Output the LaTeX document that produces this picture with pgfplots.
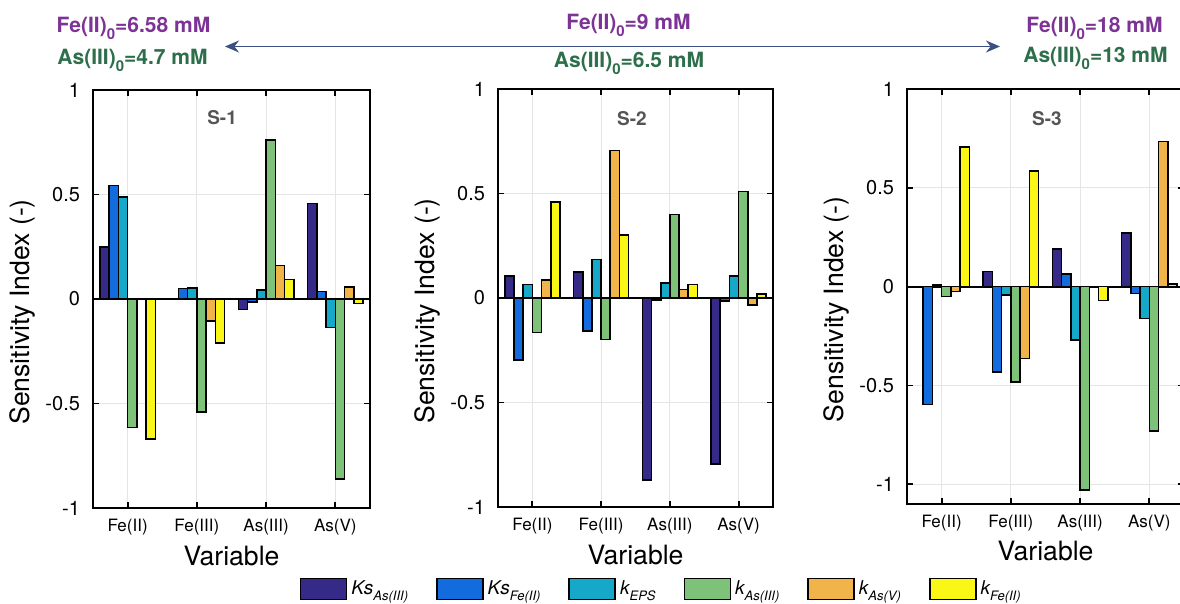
\documentclass[border=0pt]{standalone}
\usepackage{pgfplots}
\pgfplotsset{compat=1.18}
\usepackage{pgfplotstable}
\usepackage{fontspec}
\setmainfont{TeX Gyre Heros}
\usetikzlibrary{arrows.meta}

\definecolor{c1}{RGB}{53,42,135}
\definecolor{c2}{RGB}{18,108,222}
\definecolor{c3}{RGB}{22,168,200}
\definecolor{c4}{RGB}{126,194,122}
\definecolor{c5}{RGB}{240,180,75}
\definecolor{c6}{RGB}{250,246,22}
\definecolor{annP}{RGB}{125,50,150}
\definecolor{annG}{RGB}{45,110,75}
\definecolor{arr}{RGB}{60,80,130}
\definecolor{ttl}{RGB}{85,85,85}

\pgfplotstableread{
x a b c d e f
1 0.25 0.544 0.488 -0.614 0.0 -0.67
2 0.0 0.05 0.053 -0.54 -0.104 -0.21
3 -0.051 -0.014 0.043 0.76 0.16 0.094
4 0.456 0.035 -0.136 -0.861 0.056 -0.022
}\tabA
\pgfplotstableread{
x a b c d e f
1 0.104 -0.298 0.065 -0.166 0.085 0.46
2 0.125 -0.158 0.185 -0.198 0.705 0.30
3 -0.87 -0.01 0.073 0.40 0.04 0.065
4 -0.795 -0.015 0.104 0.51 -0.033 0.02
}\tabB
\pgfplotstableread{
x a b c d e f
1 -0.005 -0.597 0.008 -0.05 -0.025 0.707
2 0.076 -0.432 -0.042 -0.483 -0.364 0.585
3 0.19 0.063 -0.27 -1.03 0.0 -0.071
4 0.271 -0.034 -0.161 -0.732 0.734 0.012
}\tabC

\newcommand{\sub}[1]{\raisebox{-0.6ex}{\fontsize{6.5}{7}\selectfont\itshape #1}}
\newcommand{\zs}{\raisebox{-0.55ex}{\fontsize{7.5}{8}\selectfont 0}}

\pgfplotsset{
  sens/.style={
    scale only axis,
    xmin=0.5, xmax=4.5, ymax=1,
    xtick={1,2,3,4}, xticklabels={Fe(II),Fe(III),As(III),As(V)},
    ytick={-1,-0.5,0,0.5,1}, yticklabels={-1,-0.5,0,0.5,1},
    grid=major, major grid style={black!10, line width=0.5pt},
    axis line style={line width=1.1pt},
    tick align=inside, xtick pos=both, ytick pos=both,
    major tick length=3pt,
    every tick/.style={black, line width=0.9pt},
    xticklabel style={font=\fontsize{8.5}{10}\selectfont, yshift=-2pt},
    yticklabel style={font=\fontsize{10}{12}\selectfont, xshift=-3pt},
    xlabel={Variable}, ylabel={Sensitivity Index (-)},
    label style={font=\fontsize{13.3}{15}\selectfont},
    xlabel style={at={(axis description cs:0.5,-0.114)}, anchor=center},
    ylabel style={at={(axis description cs:-0.256,0.469)}, anchor=center},
    extra y ticks={0}, extra y tick labels={},
    extra y tick style={grid=major, major grid style={black, line width=0.9pt}, major tick length=0pt},
  },
  bs/.style={ybar, bar width=0.13333, draw=black, line width=0.8pt, fill=#1},
  leg/.style={legend image code/.code={\draw[fill=#1, draw=black, line width=0.8pt] (0pt,-5.25pt) rectangle (23pt,5.25pt);}},
}

\begin{document}
\begin{tikzpicture}

% Panel S-1
\begin{axis}[sens, at={(46.5pt,-254pt)}, anchor=south west, width=138.5pt, height=209pt, ymin=-1]
\addplot[bs=c1, bar shift=-0.33333, leg=c1] table[x=x,y=a]{\tabA};
\addplot[bs=c2, bar shift=-0.2, leg=c2] table[x=x,y=b]{\tabA};
\addplot[bs=c3, bar shift=-0.066667, leg=c3] table[x=x,y=c]{\tabA};
\addplot[bs=c4, bar shift=0.066667, leg=c4] table[x=x,y=d]{\tabA};
\addplot[bs=c5, bar shift=0.2, leg=c5] table[x=x,y=e]{\tabA};
\addplot[bs=c6, bar shift=0.33333, leg=c6] table[x=x,y=f]{\tabA};
\node[font=\bfseries\fontsize{9.5}{11}\selectfont, text=ttl] at (rel axis cs:0.466,0.933) {S-1};
\end{axis}

% Panel S-2
\begin{axis}[sens, at={(249pt,-253.5pt)}, anchor=south west, width=137.5pt, height=209pt, ymin=-1,
  legend columns=6,
  legend style={at={(axis description cs:0.597,-0.196)}, anchor=center, draw=none, fill=none,
    font=\fontsize{9.5}{11}\selectfont\itshape,
    /tikz/every even column/.append style={column sep=12pt}},
  legend cell align=left]
\addplot[bs=c1, bar shift=-0.33333, leg=c1] table[x=x,y=a]{\tabB};
\addlegendentry{Ks\sub{As(III)}}
\addplot[bs=c2, bar shift=-0.2, leg=c2] table[x=x,y=b]{\tabB};
\addlegendentry{Ks\sub{Fe(II)}}
\addplot[bs=c3, bar shift=-0.066667, leg=c3] table[x=x,y=c]{\tabB};
\addlegendentry{k\sub{EPS}}
\addplot[bs=c4, bar shift=0.066667, leg=c4] table[x=x,y=d]{\tabB};
\addlegendentry{k\sub{As(III)}}
\addplot[bs=c5, bar shift=0.2, leg=c5] table[x=x,y=e]{\tabB};
\addlegendentry{k\sub{As(V)}}
\addplot[bs=c6, bar shift=0.33333, leg=c6] table[x=x,y=f]{\tabB};
\addlegendentry{k\sub{Fe(II)}}
\node[font=\bfseries\fontsize{9.5}{11}\selectfont, text=ttl] at (rel axis cs:0.487,0.93) {S-2};
\end{axis}

% Panel S-3
\begin{axis}[sens, at={(453.5pt,-252pt)}, anchor=south west, width=138.5pt, height=207.5pt, ymin=-1.1]
\addplot[bs=c1, bar shift=-0.33333, leg=c1] table[x=x,y=a]{\tabC};
\addplot[bs=c2, bar shift=-0.2, leg=c2] table[x=x,y=b]{\tabC};
\addplot[bs=c3, bar shift=-0.066667, leg=c3] table[x=x,y=c]{\tabC};
\addplot[bs=c4, bar shift=0.066667, leg=c4] table[x=x,y=d]{\tabC};
\addplot[bs=c5, bar shift=0.2, leg=c5] table[x=x,y=e]{\tabC};
\addplot[bs=c6, bar shift=0.33333, leg=c6] table[x=x,y=f]{\tabC};
\node[font=\bfseries\fontsize{9.5}{11}\selectfont, text=ttl] at (rel axis cs:0.505,0.928) {S-3};
\end{axis}

% annotations
\begin{scope}[every node/.style={font=\bfseries\fontsize{10.5}{12}\selectfont, anchor=base, inner sep=0pt}]
\node[text=annP] at (66.75pt,-16.5pt) {Fe(II)\zs=6.58 mM};
\node[text=annG] at (66.25pt,-32.5pt) {As(III)\zs=4.7 mM};
\node[text=annP] at (314.25pt,-15pt) {Fe(II)\zs=9 mM};
\node[text=annG] at (314.5pt,-34pt) {As(III)\zs=6.5 mM};
\node[text=annP] at (547.25pt,-16.5pt) {Fe(II)\zs=18 mM};
\node[text=annG] at (547.75pt,-31.5pt) {As(III)\zs=13 mM};
\end{scope}
\draw[arr, line width=0.8pt, {Stealth[length=7pt,width=6pt]}-{Stealth[length=7pt,width=6pt]}] (112.5pt,-23.25pt) -- (500pt,-23.25pt);

\pgfresetboundingbox
\path[use as bounding box] (0pt,0pt) rectangle (590pt,-302pt);
\end{tikzpicture}
\end{document}
